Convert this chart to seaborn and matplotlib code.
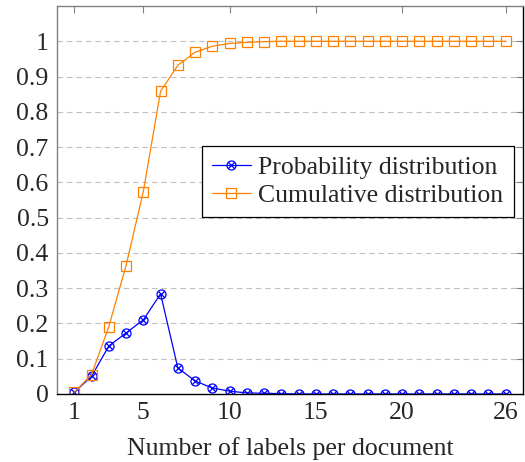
import numpy as np
import pandas as pd
import matplotlib
matplotlib.use("Agg")
import matplotlib.pyplot as plt
from matplotlib.path import Path
import seaborn as sns

# data
n_labels = list(range(1, 27))
prob = [0.005, 0.050, 0.136, 0.173, 0.210, 0.284, 0.074, 0.037, 0.017, 0.008,
        0.003, 0.002, 0.001, 0.0, 0.0, 0.0, 0.0, 0.0, 0.0, 0.0,
        0.0, 0.0, 0.0, 0.0, 0.0, 0.0]
cumul = [0.005, 0.055, 0.191, 0.364, 0.574, 0.858, 0.932, 0.969, 0.986, 0.994,
         0.997, 0.999, 1.0, 1.0, 1.0, 1.0, 1.0, 1.0, 1.0, 1.0,
         1.0, 1.0, 1.0, 1.0, 1.0, 1.0]
x_ticks = [1, 5, 10, 15, 20, 26]
y_ticks = [0, 0.1, 0.2, 0.3, 0.4, 0.5, 0.6, 0.7, 0.8, 0.9, 1]
y_ticklabels = ["0", "0.1", "0.2", "0.3", "0.4", "0.5", "0.6", "0.7", "0.8", "0.9", "1"]

df = pd.DataFrame({"n": n_labels, "prob": prob, "cum": cumul})

sns.set_style("white")
plt.rcParams["font.family"] = ["Liberation Serif", "DejaVu Serif"]

# circle with a cross (otimes marker)
circ = Path.unit_circle()
k = np.sqrt(0.5)
cross = Path([(-k, -k), (k, k), (-k, k), (k, -k)],
             [Path.MOVETO, Path.LINETO, Path.MOVETO, Path.LINETO])
otimes = Path.make_compound_path(circ, cross)

fig = plt.figure(figsize=(5.25, 4.62), dpi=100)
ax = fig.add_axes([0.1086, 0.1472, 0.8876, 0.8398])

ax.yaxis.grid(True, color="#c0c0c0", linestyle=(0, (5, 3.5)), linewidth=0.8)
ax.set_axisbelow(True)

sns.lineplot(data=df, x="n", y="prob", ax=ax, color="#0000ff", linewidth=0.9,
             marker=otimes, markersize=6.5, markerfacecolor="none",
             markeredgecolor="#0000ff", markeredgewidth=0.9,
             label="Probability distribution")
sns.lineplot(data=df, x="n", y="cum", ax=ax, color="#ff8000", linewidth=0.9,
             marker="s", markersize=7, markerfacecolor="none",
             markeredgecolor="#ff8000", markeredgewidth=0.9,
             label="Cumulative distribution")

ax.set_xlim(0, 27)
ax.set_ylim(0, 1.1)
ax.set_xticks(x_ticks)
ax.set_yticks(y_ticks)
ax.set_yticklabels(y_ticklabels)
ax.tick_params(axis="both", direction="in", length=5, width=0.8, color="#808080",
               labelsize=18.5, top=True, right=True, pad=6)
ax.set_xlabel("Number of labels per document", fontsize=18.5, labelpad=9)
ax.set_ylabel("")

for side in ["left", "top"]:
    ax.spines[side].set_color("#808080")
for side in ["right", "bottom"]:
    ax.spines[side].set_color("black")
for s in ax.spines.values():
    s.set_linewidth(1.0)

leg = ax.legend(loc="center right", bbox_to_anchor=(0.98, 0.548), fontsize=18.5,
                frameon=True, fancybox=False, framealpha=1, edgecolor="black",
                handlelength=1.5, handletextpad=0.3, borderpad=0.4,
                labelspacing=0.2, borderaxespad=0)
leg.get_frame().set_linewidth(0.9)

fig.savefig("out.png", dpi=100)
